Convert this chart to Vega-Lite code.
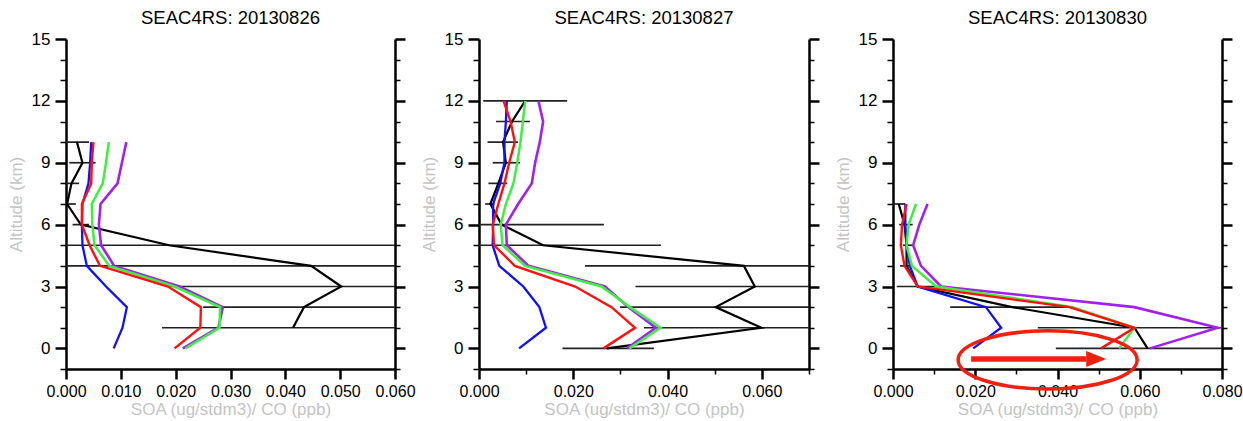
{
  "$schema": "https://vega.github.io/schema/vega-lite/v6.json",
  "padding": {"left": 7, "top": 8, "right": 5, "bottom": 2},
  "spacing": 84,
  "bounds": "flush",
  "config": {
    "font": "Liberation Sans",
    "view": {"stroke": null},
    "axis": {"domainColor": "#000", "domainWidth": 2.5, "tickColor": "#000", "labelColor": "#000", "labelFontSize": 16, "labelFont": "Liberation Sans", "titleFont": "Liberation Sans", "titleFontSize": 17, "titleFontWeight": "normal", "titleColor": "#c4c4c4", "grid": false, "labelOverlap": false, "labelBound": false, "labelFlush": false},
    "title": {"font": "Liberation Sans", "fontSize": 18.5, "fontWeight": "normal", "color": "#000", "frame": "group", "offset": 3}
  },
  "datasets": {
    "lines": [
      {"p":1,"s":"obs","alt":1,"v":0.0414},{"p":1,"s":"obs","alt":2,"v":0.0434},{"p":1,"s":"obs","alt":3,"v":0.0502},{"p":1,"s":"obs","alt":4,"v":0.0447},{"p":1,"s":"obs","alt":5,"v":0.0188},{"p":1,"s":"obs","alt":6,"v":0.0027},{"p":1,"s":"obs","alt":7,"v":0.0002},{"p":1,"s":"obs","alt":8,"v":0.0010},{"p":1,"s":"obs","alt":9,"v":0.0030},{"p":1,"s":"obs","alt":10,"v":0.0020},
      {"p":1,"s":"m1","alt":0,"v":0.0087},{"p":1,"s":"m1","alt":1,"v":0.0103},{"p":1,"s":"m1","alt":2,"v":0.0111},{"p":1,"s":"m1","alt":3,"v":0.0073},{"p":1,"s":"m1","alt":4,"v":0.0038},{"p":1,"s":"m1","alt":5,"v":0.0030},{"p":1,"s":"m1","alt":6,"v":0.0029},{"p":1,"s":"m1","alt":7,"v":0.0030},{"p":1,"s":"m1","alt":8,"v":0.0041},{"p":1,"s":"m1","alt":9,"v":0.0044},{"p":1,"s":"m1","alt":10,"v":0.0046},
      {"p":1,"s":"m4","alt":0,"v":0.0213},{"p":1,"s":"m4","alt":1,"v":0.0278},{"p":1,"s":"m4","alt":2,"v":0.0286},{"p":1,"s":"m4","alt":3,"v":0.0207},{"p":1,"s":"m4","alt":4,"v":0.0088},{"p":1,"s":"m4","alt":5,"v":0.0064},{"p":1,"s":"m4","alt":6,"v":0.0060},{"p":1,"s":"m4","alt":7,"v":0.0063},{"p":1,"s":"m4","alt":8,"v":0.0094},{"p":1,"s":"m4","alt":9,"v":0.0102},{"p":1,"s":"m4","alt":10,"v":0.0110},
      {"p":1,"s":"m3","alt":0,"v":0.0218},{"p":1,"s":"m3","alt":1,"v":0.0280},{"p":1,"s":"m3","alt":2,"v":0.0281},{"p":1,"s":"m3","alt":3,"v":0.0198},{"p":1,"s":"m3","alt":4,"v":0.0079},{"p":1,"s":"m3","alt":5,"v":0.0052},{"p":1,"s":"m3","alt":6,"v":0.0048},{"p":1,"s":"m3","alt":7,"v":0.0047},{"p":1,"s":"m3","alt":8,"v":0.0067},{"p":1,"s":"m3","alt":9,"v":0.0073},{"p":1,"s":"m3","alt":10,"v":0.0078},
      {"p":1,"s":"m2","alt":0,"v":0.0198},{"p":1,"s":"m2","alt":1,"v":0.0245},{"p":1,"s":"m2","alt":2,"v":0.0246},{"p":1,"s":"m2","alt":3,"v":0.0186},{"p":1,"s":"m2","alt":4,"v":0.0062},{"p":1,"s":"m2","alt":5,"v":0.0043},{"p":1,"s":"m2","alt":6,"v":0.0029},{"p":1,"s":"m2","alt":7,"v":0.0029},{"p":1,"s":"m2","alt":8,"v":0.0046},{"p":1,"s":"m2","alt":9,"v":0.0047},{"p":1,"s":"m2","alt":10,"v":0.0050},

      {"p":2,"s":"obs","alt":0,"v":0.0271},{"p":2,"s":"obs","alt":1,"v":0.0599},{"p":2,"s":"obs","alt":2,"v":0.0502},{"p":2,"s":"obs","alt":3,"v":0.0585},{"p":2,"s":"obs","alt":4,"v":0.0562},{"p":2,"s":"obs","alt":5,"v":0.0136},{"p":2,"s":"obs","alt":6,"v":0.0048},{"p":2,"s":"obs","alt":7,"v":0.0024},{"p":2,"s":"obs","alt":8,"v":0.0041},{"p":2,"s":"obs","alt":9,"v":0.0057},{"p":2,"s":"obs","alt":10,"v":0.0051},{"p":2,"s":"obs","alt":11,"v":0.0070},{"p":2,"s":"obs","alt":12,"v":0.0098},
      {"p":2,"s":"m1","alt":0,"v":0.0085},{"p":2,"s":"m1","alt":1,"v":0.0142},{"p":2,"s":"m1","alt":2,"v":0.0128},{"p":2,"s":"m1","alt":3,"v":0.0094},{"p":2,"s":"m1","alt":4,"v":0.0043},{"p":2,"s":"m1","alt":5,"v":0.0029},{"p":2,"s":"m1","alt":6,"v":0.0030},{"p":2,"s":"m1","alt":7,"v":0.0030},{"p":2,"s":"m1","alt":8,"v":0.0045},{"p":2,"s":"m1","alt":9,"v":0.0054},{"p":2,"s":"m1","alt":10,"v":0.0054},{"p":2,"s":"m1","alt":11,"v":0.0057},{"p":2,"s":"m1","alt":12,"v":0.0059},
      {"p":2,"s":"m4","alt":0,"v":0.0314},{"p":2,"s":"m4","alt":1,"v":0.0375},{"p":2,"s":"m4","alt":2,"v":0.0317},{"p":2,"s":"m4","alt":3,"v":0.0267},{"p":2,"s":"m4","alt":4,"v":0.0105},{"p":2,"s":"m4","alt":5,"v":0.0059},{"p":2,"s":"m4","alt":6,"v":0.0057},{"p":2,"s":"m4","alt":7,"v":0.0083},{"p":2,"s":"m4","alt":8,"v":0.0112},{"p":2,"s":"m4","alt":9,"v":0.0119},{"p":2,"s":"m4","alt":10,"v":0.0129},{"p":2,"s":"m4","alt":11,"v":0.0136},{"p":2,"s":"m4","alt":12,"v":0.0126},
      {"p":2,"s":"m3","alt":0,"v":0.0319},{"p":2,"s":"m3","alt":1,"v":0.0385},{"p":2,"s":"m3","alt":2,"v":0.0320},{"p":2,"s":"m3","alt":3,"v":0.0260},{"p":2,"s":"m3","alt":4,"v":0.0098},{"p":2,"s":"m3","alt":5,"v":0.0050},{"p":2,"s":"m3","alt":6,"v":0.0046},{"p":2,"s":"m3","alt":7,"v":0.0057},{"p":2,"s":"m3","alt":8,"v":0.0073},{"p":2,"s":"m3","alt":9,"v":0.0081},{"p":2,"s":"m3","alt":10,"v":0.0088},{"p":2,"s":"m3","alt":11,"v":0.0093},{"p":2,"s":"m3","alt":12,"v":0.0098},
      {"p":2,"s":"m2","alt":0,"v":0.0264},{"p":2,"s":"m2","alt":1,"v":0.0331},{"p":2,"s":"m2","alt":2,"v":0.0281},{"p":2,"s":"m2","alt":3,"v":0.0204},{"p":2,"s":"m2","alt":4,"v":0.0076},{"p":2,"s":"m2","alt":5,"v":0.0032},{"p":2,"s":"m2","alt":6,"v":0.0029},{"p":2,"s":"m2","alt":7,"v":0.0041},{"p":2,"s":"m2","alt":8,"v":0.0054},{"p":2,"s":"m2","alt":9,"v":0.0064},{"p":2,"s":"m2","alt":10,"v":0.0076},{"p":2,"s":"m2","alt":11,"v":0.0067},{"p":2,"s":"m2","alt":12,"v":0.0052},

      {"p":3,"s":"obs","alt":0,"v":0.0619},{"p":3,"s":"obs","alt":1,"v":0.0587},{"p":3,"s":"obs","alt":2,"v":0.0290},{"p":3,"s":"obs","alt":3,"v":0.0060},{"p":3,"s":"obs","alt":4,"v":0.0033},{"p":3,"s":"obs","alt":5,"v":0.0033},{"p":3,"s":"obs","alt":6,"v":0.0028},{"p":3,"s":"obs","alt":7,"v":0.0014},
      {"p":3,"s":"m1","alt":0,"v":0.0195},{"p":3,"s":"m1","alt":1,"v":0.0263},{"p":3,"s":"m1","alt":2,"v":0.0226},{"p":3,"s":"m1","alt":3,"v":0.0060},{"p":3,"s":"m1","alt":4,"v":0.0041},{"p":3,"s":"m1","alt":5,"v":0.0033},{"p":3,"s":"m1","alt":6,"v":0.0030},{"p":3,"s":"m1","alt":7,"v":0.0030},
      {"p":3,"s":"m4","alt":0,"v":0.0625},{"p":3,"s":"m4","alt":1,"v":0.0790},{"p":3,"s":"m4","alt":2,"v":0.0587},{"p":3,"s":"m4","alt":3,"v":0.0117},{"p":3,"s":"m4","alt":4,"v":0.0068},{"p":3,"s":"m4","alt":5,"v":0.0049},{"p":3,"s":"m4","alt":6,"v":0.0064},{"p":3,"s":"m4","alt":7,"v":0.0084},
      {"p":3,"s":"m3","alt":0,"v":0.0550},{"p":3,"s":"m3","alt":1,"v":0.0587},{"p":3,"s":"m3","alt":2,"v":0.0437},{"p":3,"s":"m3","alt":3,"v":0.0105},{"p":3,"s":"m3","alt":4,"v":0.0046},{"p":3,"s":"m3","alt":5,"v":0.0033},{"p":3,"s":"m3","alt":6,"v":0.0038},{"p":3,"s":"m3","alt":7,"v":0.0056},
      {"p":3,"s":"m2","alt":0,"v":0.0506},{"p":3,"s":"m2","alt":1,"v":0.0587},{"p":3,"s":"m2","alt":2,"v":0.0429},{"p":3,"s":"m2","alt":3,"v":0.0060},{"p":3,"s":"m2","alt":4,"v":0.0028},{"p":3,"s":"m2","alt":5,"v":0.0019},{"p":3,"s":"m2","alt":6,"v":0.0022},{"p":3,"s":"m2","alt":7,"v":0.0033}
    ],
    "errs": [
      {"p":1,"alt":1,"lo":0.0175,"hi":0.0653},{"p":1,"alt":2,"lo":0.025,"hi":0.0618},{"p":1,"alt":3,"lo":0.019,"hi":0.081},{"p":1,"alt":4,"lo":-0.005,"hi":0.095},{"p":1,"alt":5,"lo":-0.027,"hi":0.065},{"p":1,"alt":6,"lo":0.0012,"hi":0.0042},{"p":1,"alt":7,"lo":-0.001,"hi":0.0018},{"p":1,"alt":8,"lo":-0.0005,"hi":0.0024},{"p":1,"alt":9,"lo":0.0006,"hi":0.0054},{"p":1,"alt":10,"lo":-0.0002,"hi":0.0042},
      {"p":2,"alt":0,"lo":0.0177,"hi":0.0371},{"p":2,"alt":1,"lo":0.035,"hi":0.085},{"p":2,"alt":2,"lo":0.0299,"hi":0.0705},{"p":2,"alt":3,"lo":0.0332,"hi":0.0838},{"p":2,"alt":4,"lo":0.0225,"hi":0.0899},{"p":2,"alt":5,"lo":-0.0114,"hi":0.0386},{"p":2,"alt":6,"lo":-0.017,"hi":0.0265},{"p":2,"alt":7,"lo":0.0013,"hi":0.0033},{"p":2,"alt":8,"lo":0.0020,"hi":0.0060},{"p":2,"alt":9,"lo":0.0029,"hi":0.0087},{"p":2,"alt":10,"lo":0.0018,"hi":0.0083},{"p":2,"alt":11,"lo":0.0036,"hi":0.0108},{"p":2,"alt":12,"lo":0.0009,"hi":0.0187},
      {"p":3,"alt":0,"lo":0.0396,"hi":0.0842},{"p":3,"alt":1,"lo":0.0352,"hi":0.0822},{"p":3,"alt":2,"lo":0.0139,"hi":0.0427},{"p":3,"alt":3,"lo":0.0009,"hi":0.0109},{"p":3,"alt":4,"lo":0.0017,"hi":0.0048},{"p":3,"alt":5,"lo":0.0024,"hi":0.0049},{"p":3,"alt":6,"lo":0.0015,"hi":0.0048},{"p":3,"alt":7,"lo":-0.0002,"hi":0.0030}
    ],
    "notes": [
      {"kind":"ellipse","x":0.0376,"y":-0.56},
      {"kind":"head","x":0.0494,"y":-0.51},
      {"kind":"shaft","x":0.019,"x2":0.047,"y":-0.51}
    ]
  },
  "hconcat": [
    {
      "width": 329, "height": 330,
      "title": {"text": "SEAC4RS: 20130826"},
      "resolve": {"axis": {"y": "independent"}},
      "layer": [
        {"data": {"name": "errs"}, "transform": [{"filter": "datum.p == 1"}],
         "mark": {"type": "rule", "clip": true, "color": "#222", "strokeWidth": 1.7},
         "encoding": {
           "x": {"field": "lo", "type": "quantitative", "scale": {"domain": [0, 0.06], "nice": false, "zero": false},
                 "axis": {"title": "SOA (ug/stdm3)/ CO (ppb)", "labelOverlap": false, "values": [0,0.0025,0.005,0.0075,0.01,0.0125,0.015,0.0175,0.02,0.0225,0.025,0.0275,0.03,0.0325,0.035,0.0375,0.04,0.0425,0.045,0.0475,0.05,0.0525,0.055,0.0575,0.06],
                          "labelExpr": "abs(datum.value*100 - round(datum.value*100)) < 0.01 ? format(datum.value, '.3f') : ''",
                          "tickSize": {"condition": {"test": "abs(datum.value*100 - round(datum.value*100)) < 0.01", "value": 10}, "value": 5},
                          "tickWidth": {"condition": {"test": "abs(datum.value*100 - round(datum.value*100)) < 0.01", "value": 2.5}, "value": 1.5},
                          "labelPadding": 4, "titlePadding": 2}},
           "x2": {"field": "hi"},
           "y": {"field": "alt", "type": "quantitative", "scale": {"domain": [-1, 15], "nice": false, "zero": false},
                 "axis": {"orient": "left", "title": "Altitude (km)", "labelOverlap": false, "labelFontSize": 17, "values": [-1,0,1,2,3,4,5,6,7,8,9,10,11,12,13,14,15],
                          "labelExpr": "datum.value >= 0 && datum.value % 3 == 0 ? datum.label : ''",
                          "tickSize": {"condition": {"test": "datum.value >= 0 && datum.value % 3 == 0", "value": 11}, "value": 6},
                          "tickWidth": {"condition": {"test": "datum.value >= 0 && datum.value % 3 == 0", "value": 2.5}, "value": 1.5},
                          "labelPadding": 5, "titlePadding": 6}}
         }},
        {"data": {"name": "lines"}, "transform": [{"filter": "datum.p == 1"}],
         "mark": {"type": "line", "clip": true},
         "encoding": {
           "x": {"field": "v", "type": "quantitative"},
           "y": {"field": "alt", "type": "quantitative",
                 "axis": {"orient": "right", "title": null, "labels": false, "values": [-1,0,1,2,3,4,5,6,7,8,9,10,11,12,13,14,15],
                          "tickSize": {"condition": {"test": "datum.value >= 0 && datum.value % 3 == 0", "value": 10}, "value": 5},
                          "tickWidth": {"condition": {"test": "datum.value >= 0 && datum.value % 3 == 0", "value": 2.5}, "value": 1.5}}},
           "color": {"field": "s", "type": "nominal", "scale": {"domain": ["obs","m1","m2","m3","m4"], "range": ["#000000","#1010ff","#ff1010","#40ee40","#a020f0"]}, "legend": null},
           "strokeWidth": {"field": "s", "type": "nominal", "scale": {"domain": ["obs","m1","m2","m3","m4"], "range": [2.2, 2.6, 2.6, 1.5, 2.4]}, "legend": null},
           "order": {"field": "alt", "type": "quantitative"}
         }}
      ]
    },
    {
      "width": 330, "height": 330,
      "title": {"text": "SEAC4RS: 20130827"},
      "resolve": {"axis": {"y": "independent"}},
      "layer": [
        {"data": {"name": "errs"}, "transform": [{"filter": "datum.p == 2"}],
         "mark": {"type": "rule", "clip": true, "color": "#222", "strokeWidth": 1.7},
         "encoding": {
           "x": {"field": "lo", "type": "quantitative", "scale": {"domain": [0, 0.07], "nice": false, "zero": false},
                 "axis": {"title": "SOA (ug/stdm3)/ CO (ppb)", "labelOverlap": false, "values": [0,0.005,0.01,0.015,0.02,0.025,0.03,0.035,0.04,0.045,0.05,0.055,0.06,0.065,0.07],
                          "labelExpr": "abs(datum.value*50 - round(datum.value*50)) < 0.01 && datum.value < 0.065 ? format(datum.value, '.3f') : ''",
                          "tickSize": {"condition": {"test": "abs(datum.value*50 - round(datum.value*50)) < 0.01", "value": 10}, "value": 5},
                          "tickWidth": {"condition": {"test": "abs(datum.value*50 - round(datum.value*50)) < 0.01", "value": 2.5}, "value": 1.5},
                          "labelPadding": 4, "titlePadding": 2}},
           "x2": {"field": "hi"},
           "y": {"field": "alt", "type": "quantitative", "scale": {"domain": [-1, 15], "nice": false, "zero": false},
                 "axis": {"orient": "left", "title": "Altitude (km)", "labelOverlap": false, "labelFontSize": 17, "values": [-1,0,1,2,3,4,5,6,7,8,9,10,11,12,13,14,15],
                          "labelExpr": "datum.value >= 0 && datum.value % 3 == 0 ? datum.label : ''",
                          "tickSize": {"condition": {"test": "datum.value >= 0 && datum.value % 3 == 0", "value": 11}, "value": 6},
                          "tickWidth": {"condition": {"test": "datum.value >= 0 && datum.value % 3 == 0", "value": 2.5}, "value": 1.5},
                          "labelPadding": 5, "titlePadding": 6}}
         }},
        {"data": {"name": "lines"}, "transform": [{"filter": "datum.p == 2"}],
         "mark": {"type": "line", "clip": true},
         "encoding": {
           "x": {"field": "v", "type": "quantitative"},
           "y": {"field": "alt", "type": "quantitative",
                 "axis": {"orient": "right", "title": null, "labels": false, "values": [-1,0,1,2,3,4,5,6,7,8,9,10,11,12,13,14,15],
                          "tickSize": {"condition": {"test": "datum.value >= 0 && datum.value % 3 == 0", "value": 10}, "value": 5},
                          "tickWidth": {"condition": {"test": "datum.value >= 0 && datum.value % 3 == 0", "value": 2.5}, "value": 1.5}}},
           "color": {"field": "s", "type": "nominal", "scale": {"domain": ["obs","m1","m2","m3","m4"], "range": ["#000000","#1010ff","#ff1010","#40ee40","#a020f0"]}, "legend": null},
           "strokeWidth": {"field": "s", "type": "nominal", "scale": {"domain": ["obs","m1","m2","m3","m4"], "range": [2.2, 2.6, 2.6, 1.5, 2.4]}, "legend": null},
           "order": {"field": "alt", "type": "quantitative"}
         }}
      ]
    },
    {
      "width": 329, "height": 330,
      "title": {"text": "SEAC4RS: 20130830"},
      "resolve": {"axis": {"y": "independent"}},
      "layer": [
        {"data": {"name": "errs"}, "transform": [{"filter": "datum.p == 3"}],
         "mark": {"type": "rule", "clip": true, "color": "#222", "strokeWidth": 1.7},
         "encoding": {
           "x": {"field": "lo", "type": "quantitative", "scale": {"domain": [0, 0.08], "nice": false, "zero": false},
                 "axis": {"title": "SOA (ug/stdm3)/ CO (ppb)", "labelOverlap": false, "values": [0,0.005,0.01,0.015,0.02,0.025,0.03,0.035,0.04,0.045,0.05,0.055,0.06,0.065,0.07,0.075,0.08],
                          "labelExpr": "abs(datum.value*50 - round(datum.value*50)) < 0.01 ? format(datum.value, '.3f') : ''",
                          "tickSize": {"condition": {"test": "abs(datum.value*50 - round(datum.value*50)) < 0.01", "value": 10}, "value": 5},
                          "tickWidth": {"condition": {"test": "abs(datum.value*50 - round(datum.value*50)) < 0.01", "value": 2.5}, "value": 1.5},
                          "labelPadding": 4, "titlePadding": 2}},
           "x2": {"field": "hi"},
           "y": {"field": "alt", "type": "quantitative", "scale": {"domain": [-1, 15], "nice": false, "zero": false},
                 "axis": {"orient": "left", "title": "Altitude (km)", "labelOverlap": false, "labelFontSize": 17, "values": [-1,0,1,2,3,4,5,6,7,8,9,10,11,12,13,14,15],
                          "labelExpr": "datum.value >= 0 && datum.value % 3 == 0 ? datum.label : ''",
                          "tickSize": {"condition": {"test": "datum.value >= 0 && datum.value % 3 == 0", "value": 11}, "value": 6},
                          "tickWidth": {"condition": {"test": "datum.value >= 0 && datum.value % 3 == 0", "value": 2.5}, "value": 1.5},
                          "labelPadding": 5, "titlePadding": 6}}
         }},
        {"data": {"name": "lines"}, "transform": [{"filter": "datum.p == 3"}],
         "mark": {"type": "line", "clip": true},
         "encoding": {
           "x": {"field": "v", "type": "quantitative"},
           "y": {"field": "alt", "type": "quantitative",
                 "axis": {"orient": "right", "title": null, "labels": false, "values": [-1,0,1,2,3,4,5,6,7,8,9,10,11,12,13,14,15],
                          "tickSize": {"condition": {"test": "datum.value >= 0 && datum.value % 3 == 0", "value": 10}, "value": 5},
                          "tickWidth": {"condition": {"test": "datum.value >= 0 && datum.value % 3 == 0", "value": 2.5}, "value": 1.5}}},
           "color": {"field": "s", "type": "nominal", "scale": {"domain": ["obs","m1","m2","m3","m4"], "range": ["#000000","#1010ff","#ff1010","#40ee40","#a020f0"]}, "legend": null},
           "strokeWidth": {"field": "s", "type": "nominal", "scale": {"domain": ["obs","m1","m2","m3","m4"], "range": [2.2, 2.6, 2.6, 1.5, 2.4]}, "legend": null},
           "order": {"field": "alt", "type": "quantitative"}
         }},
        {"data": {"name": "notes"}, "transform": [{"filter": "datum.kind == 'ellipse'"}],
         "mark": {"type": "point", "shape": "M-1,0A1,0.325 0 1,1 1,0A1,0.325 0 1,1 -1,0Z", "size": 32041, "filled": false, "stroke": "#f02010", "strokeWidth": 3.5, "opacity": 1, "clip": false},
         "encoding": {
           "x": {"field": "x", "type": "quantitative"},
           "y": {"field": "y", "type": "quantitative", "axis": null}
         }},
        {"data": {"name": "notes"}, "transform": [{"filter": "datum.kind == 'shaft'"}],
         "mark": {"type": "rule", "color": "#f02010", "strokeWidth": 5.5},
         "encoding": {
           "x": {"field": "x", "type": "quantitative"},
           "x2": {"field": "x2"},
           "y": {"field": "y", "type": "quantitative", "axis": null}
         }},
        {"data": {"name": "notes"}, "transform": [{"filter": "datum.kind == 'head'"}],
         "mark": {"type": "point", "shape": "M-1,-0.8L1,0L-1,0.8Z", "size": 400, "filled": true, "color": "#f02010", "opacity": 1},
         "encoding": {
           "x": {"field": "x", "type": "quantitative"},
           "y": {"field": "y", "type": "quantitative", "axis": null}
         }}
      ]
    }
  ]
}
